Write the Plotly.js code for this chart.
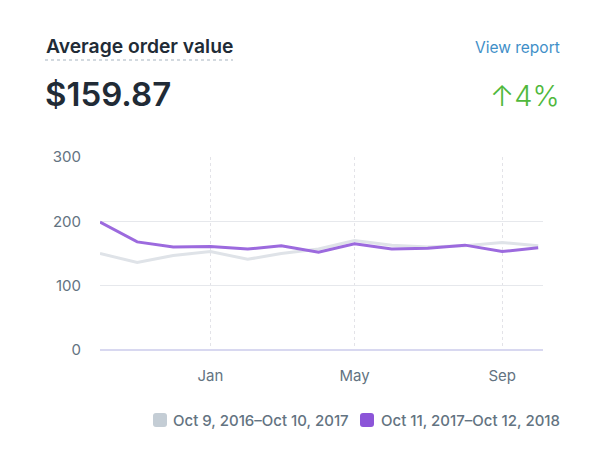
<!DOCTYPE html>
<html>
<head>
<meta charset="utf-8">
<script src="https://cdn.plot.ly/plotly-3.0.1.min.js"></script>
<style>html,body{margin:0;padding:0;background:#fff;}#chart{width:600px;height:466px;}</style>
</head>
<body>
<div id="chart"></div>
<script>
// Data
const months = ["2017-10-01","2017-11-01","2017-12-01","2018-01-01","2018-02-01","2018-03-01","2018-04-01","2018-05-01","2018-06-01","2018-07-01","2018-08-01","2018-09-01","2018-10-01"];
const previousValues = [150, 136, 147, 153, 141, 150, 157, 170, 163, 160, 162, 167, 162];
const currentValues  = [199, 168, 160, 161, 157, 162, 152, 165, 157, 158, 163, 153, 159];
const previousName = "Oct 9, 2016–Oct 10, 2017";
const currentName  = "Oct 11, 2017–Oct 12, 2018";
const tickDates = ["2018-01-01","2018-05-01","2018-09-01"];
const tickLabels = ["Jan","May","Sep"];
const yTicks = [0, 100, 200, 300];

const L = 100, R = 57, T = 157, B = 116;
const W = 600 - L - R, H = 466 - T - B;
const px = x => (x - L) / W;
const py = y => (466 - B - y) / H;

const font = "Inter, 'Helvetica Neue', Arial, sans-serif";
const grey = "#637381";
const prevColor = "#dfe3e8", currColor = "#9c6ade";
const prevSwatch = "#c4cdd5", currSwatch = "#8c55d8";

// rounded legend swatch in pixel space -> paper path
function swatch(x, y, s, r, color) {
  const X = v => px(v), Y = v => py(v);
  const d = `M${X(x + r)},${Y(y)} L${X(x + s - r)},${Y(y)} Q${X(x + s)},${Y(y)} ${X(x + s)},${Y(y + r)} ` +
            `L${X(x + s)},${Y(y + s - r)} Q${X(x + s)},${Y(y + s)} ${X(x + s - r)},${Y(y + s)} ` +
            `L${X(x + r)},${Y(y + s)} Q${X(x)},${Y(y + s)} ${X(x)},${Y(y + s - r)} ` +
            `L${X(x)},${Y(y + r)} Q${X(x)},${Y(y)} ${X(x + r)},${Y(y)} Z`;
  return {type: "path", xref: "paper", yref: "paper", path: d, fillcolor: color, line: {width: 0}};
}

const traces = [
  {x: months, y: previousValues, type: "scatter", mode: "lines", name: previousName,
   line: {color: prevColor, width: 3}, showlegend: false, hoverinfo: "skip"},
  {x: months, y: currentValues, type: "scatter", mode: "lines", name: currentName,
   line: {color: currColor, width: 3}, showlegend: false, hoverinfo: "skip"}
];

const layout = {
  width: 600, height: 466,
  margin: {l: L, r: R, t: T, b: B, pad: 0},
  paper_bgcolor: "#fff", plot_bgcolor: "#fff",
  font: {family: font, color: grey, size: 15},
  showlegend: false,
  xaxis: {
    type: "date", range: ["2017-10-01", "2018-10-05"],
    tickvals: tickDates, ticktext: tickLabels,
    showgrid: true, gridcolor: "#e3e3e8", griddash: "3px,3px", gridwidth: 1,
    zeroline: false, showline: false, ticks: "", ticklabelstandoff: 15,
    tickfont: {size: 15, color: grey}
  },
  yaxis: {
    range: [0, 300], tickvals: yTicks, ticktext: yTicks.map(String),
    showgrid: true, gridcolor: "#e6e8ec", gridwidth: 1.5,
    zeroline: true, zerolinecolor: "#d8d8f0", zerolinewidth: 1.5,
    showline: false, ticks: "", ticklabelstandoff: 18,
    tickfont: {size: 15, color: grey}
  },
  shapes: [
    {type: "line", xref: "paper", yref: "paper", x0: px(45), x1: px(233), y0: py(60), y1: py(60),
     line: {color: "#c4cdd5", width: 1.5, dash: "dot"}},
    swatch(153, 413, 14, 3, prevSwatch),
    swatch(360, 413, 14, 3, currSwatch)
  ],
  annotations: [
    {xref: "paper", yref: "paper", x: px(44), y: py(46), xanchor: "left", yanchor: "middle",
     text: "Average order value", showarrow: false, font: {size: 19.3, color: "#212b36", family: font, weight: 600}},
    {xref: "paper", yref: "paper", x: px(43), y: py(94), xanchor: "left", yanchor: "middle",
     text: "$159.87", showarrow: false, font: {size: 33, color: "#212b36", family: font, weight: 600}},
    {xref: "paper", yref: "paper", x: px(562), y: py(47), xanchor: "right", yanchor: "middle",
     text: "View report", showarrow: false, font: {size: 15.5, color: "#3f8fc8", family: font}},
    {xref: "paper", yref: "paper", x: px(562), y: py(95), xanchor: "right", yanchor: "middle",
     text: "↑4%", showarrow: false, font: {size: 29, color: "#50b83c", family: font, weight: 300}},
    {xref: "paper", yref: "paper", x: px(171), y: py(420), xanchor: "left", yanchor: "middle",
     text: previousName, showarrow: false, font: {size: 15, color: grey, family: font, weight: 500}},
    {xref: "paper", yref: "paper", x: px(379), y: py(420), xanchor: "left", yanchor: "middle",
     text: currentName, showarrow: false, font: {size: 15, color: grey, family: font, weight: 500}}
  ]
};

Plotly.newPlot("chart", traces, layout, {staticPlot: true, displayModeBar: false});
</script>
</body>
</html>
